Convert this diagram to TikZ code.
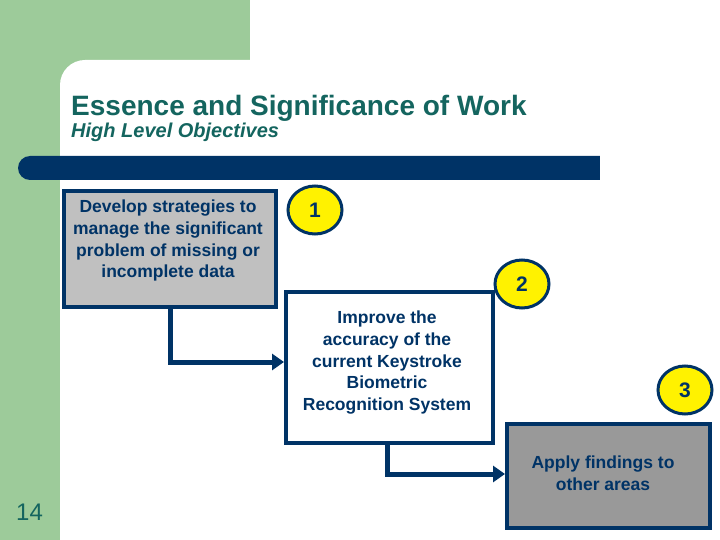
\documentclass[tikz,border=0pt]{standalone}
\usepackage{fontspec}
\setmainfont{Liberation Sans}
\usetikzlibrary{shapes.geometric,arrows.meta}
\definecolor{navy}{HTML}{003366}
\definecolor{teal1}{HTML}{14655F}
\definecolor{greenbg}{HTML}{9DCB9A}
\definecolor{gray1}{HTML}{C0C0C0}
\definecolor{gray2}{HTML}{999999}
\begin{document}
\begin{tikzpicture}[x=1pt,y=-1pt,
  box/.style={draw=navy,line width=4pt,inner sep=0pt},
  txt/.style={align=center,font=\fontsize{17.5}{21.6}\selectfont\bfseries,text=navy,inner sep=0pt},
  num/.style={ellipse,draw=navy,line width=3pt,fill=yellow,minimum width=54pt,minimum height=48pt,inner sep=0pt,font=\fontsize{21}{22}\selectfont\bfseries,text=navy},
  conn/.style={draw=navy,line width=5pt,-{Triangle[length=12pt,width=16pt]}}]
\useasboundingbox (0,0) rectangle (720,540);
\fill[greenbg] (0,0) rectangle (250,90);
\fill[greenbg] (0,0) rectangle (60,540);
\fill[white,rounded corners=25pt] (60,60) rectangle (740,560);
\node[anchor=base west,text=teal1,font=\fontsize{28}{30}\selectfont\bfseries,inner sep=0pt] (title) at (71,116) {Essence and Significance of Work};
\node[anchor=base west,text=teal1,font=\fontsize{20}{22}\selectfont\bfseries\itshape,inner sep=0pt] (sub) at (71,138) {High Level Objectives};
\fill[navy,rounded corners=12pt] (18,156) rectangle (620,180);
\fill[white] (600,150) rectangle (630,185);
\node[box,fill=gray1,minimum width=212pt,minimum height=116pt,anchor=north west] (b1) at (62,189) {};
\node[txt,anchor=north] (t1) at (168,200) {Develop strategies to\\manage the significant\\problem of missing or\\incomplete data};
\node[box,fill=white,minimum width=207pt,minimum height=151pt,anchor=north west] (b2) at (284,290) {};
\node[txt,anchor=north] (t2) at (387,311) {Improve the\\accuracy of the\\current Keystroke\\Biometric\\Recognition System};
\node[box,fill=gray2,minimum width=203pt,minimum height=104pt,anchor=north west] (b3) at (505,422) {};
\node[txt,anchor=north] (t3) at (603,456) {Apply findings to\\other areas};
\node[num] (c1) at (315,210) {1};
\node[num] (c2) at (522,284) {2};
\node[num] (c3) at (685,390) {3};
\coordinate (k1) at (170,362);
\coordinate (k2) at (387,474);
\draw[conn] (b1.south -| k1) -- (k1) -- (b2.west |- k1);
\draw[conn] (b2.south -| k2) -- (k2) -- (b3.west |- k2);
\node[anchor=base west,text=teal1,font=\fontsize{24}{26}\selectfont,inner sep=0pt] (pg) at (16,520) {14};
\end{tikzpicture}
\end{document}
